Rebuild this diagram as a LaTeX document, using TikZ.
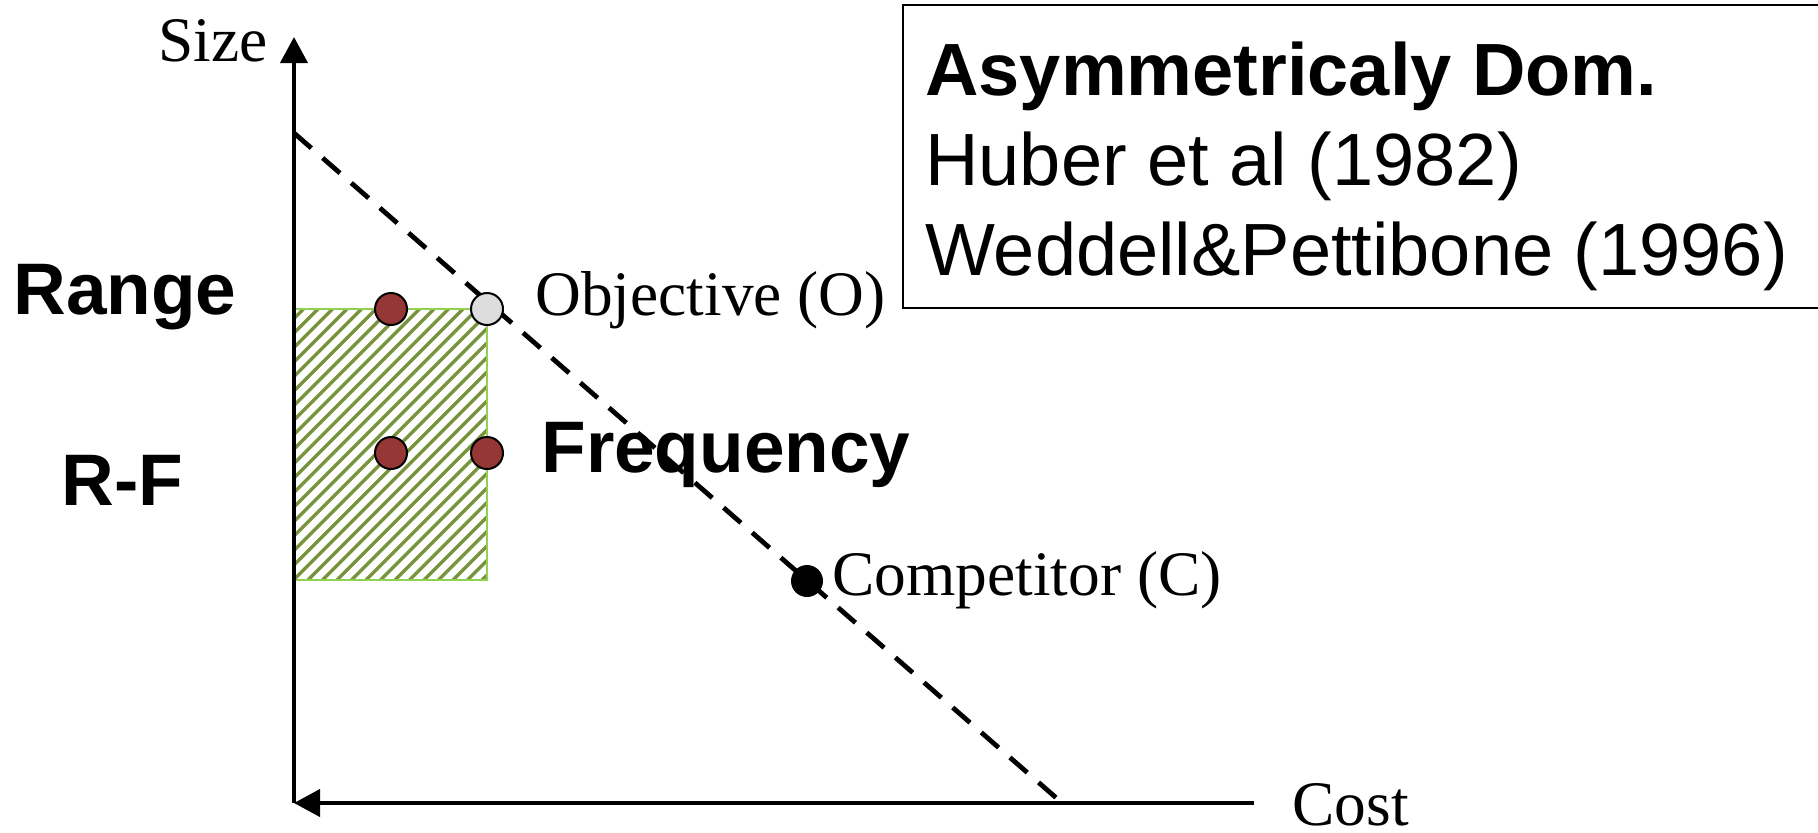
\documentclass[tikz,border=0pt]{standalone}
\usepackage{fontspec}
\setmainfont{Liberation Serif}
\newfontfamily\arialfont{Liberation Sans}
\usetikzlibrary{arrows.meta}
\definecolor{hatchgreen}{HTML}{77933C}
\definecolor{bordergreen}{HTML}{92D050}
\definecolor{dotred}{HTML}{953735}
\definecolor{dotgray}{HTML}{DDDDDD}
\tikzset{
  axisline/.style={line width=2pt},
  budget/.style={line width=2.4pt, dash pattern=on 11.5pt off 7.5pt},
  reddot/.style={circle, draw=black, line width=1pt, fill=dotred, minimum size=16pt, inner sep=0pt},
  graydot/.style={circle, draw=black, line width=1pt, fill=dotgray, minimum size=16pt, inner sep=0pt},
  blackdot/.style={circle, fill=black, minimum size=16pt, inner sep=0pt},
  serifl/.style={inner sep=0pt, font=\fontsize{31.7}{36}\selectfont},
  boldl/.style={inner sep=0pt, font=\arialfont\bfseries\fontsize{36.5}{42}\selectfont},
  boxbold/.style={inner sep=0pt, anchor=base west, font=\arialfont\bfseries\fontsize{37}{44}\selectfont},
  boxreg/.style={inner sep=0pt, anchor=base west, font=\arialfont\fontsize{37}{44}\selectfont},
}
\begin{document}
\begin{tikzpicture}[x=0.5pt,y=-0.5pt]
\useasboundingbox (0,0) rectangle (1818,832);
% hatched region
\begin{scope}
  \clip (294,309) rectangle (487,580);
  \foreach \c in {598,612.5,...,1080}
    \draw[hatchgreen, line width=1.7pt] (\c-590,590) -- (\c-300,300);
\end{scope}
\draw[bordergreen, line width=1pt] (294,309) -- (487,309) -- (487,580) -- (294,580);
% axes
\coordinate (origin) at (294,803);
\coordinate (ytop) at (294,37);
\coordinate (xright) at (1254,803);
\draw[axisline, -{Triangle[length=13pt,width=13.5pt]}] (origin) -- (ytop);
\draw[axisline, -{Triangle[length=13pt,width=13.5pt]}] (xright) -- (origin);
\node[serifl, anchor=base east] (size) at (268,61) {Size};
\node[serifl, anchor=base west] (cost) at (1292,825) {Cost};
% budget line
\coordinate (btop) at (294,133);
\coordinate (bbot) at (1061,802);
\draw[budget] (btop) -- (bbot);
% dots
\node[reddot] (r1) at (391,309) {};
\node[graydot] (obj) at (487,309) {};
\node[reddot] (r2) at (391,453) {};
\node[reddot] (freq) at (487,453) {};
\node[blackdot] (comp) at (807,581) {};
% labels
\node[serifl, anchor=base west] (objl) at (535,315) {Objective (O)};
\node[serifl, anchor=base west] (compl) at (832,595) {Competitor (C)};
\node[boldl, anchor=base west] (range) at (13,314) {Range};
\node[boldl, anchor=base west] (rf) at (61,505) {R-F};
\node[boldl, anchor=base west] (freql) at (541,472) {Frequency};
% reference box
\draw[line width=1.25pt] (1820,5) -- (903,5) -- (903,308) -- (1820,308);
\node[boxbold] (title) at (925,95) {Asymmetricaly Dom.};
\node[boxreg] (ref1) at (925,185) {Huber et al (1982)};
\node[boxreg] (ref2) at (925,275) {Weddell\&Pettibone (1996)};
\end{tikzpicture}
\end{document}
